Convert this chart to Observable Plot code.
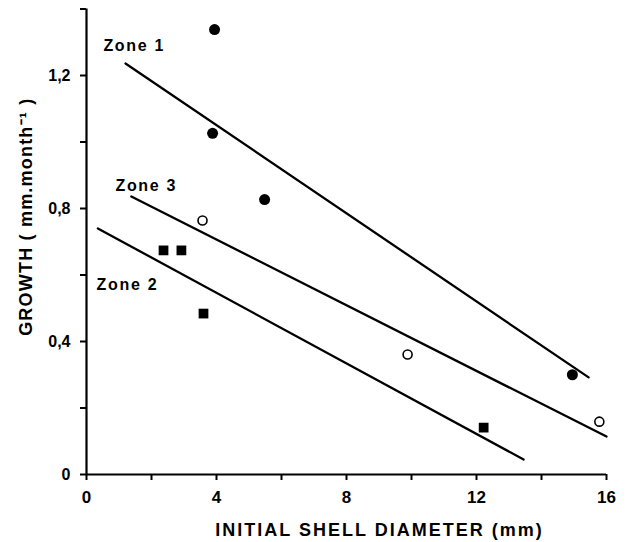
<!DOCTYPE html>
<html>
<head>
<meta charset="utf-8">
<script src="https://cdn.jsdelivr.net/npm/d3@7"></script>
<script src="https://cdn.jsdelivr.net/npm/@observablehq/plot@0.6"></script>
<style>
  html, body { margin: 0; padding: 0; background: #fff; }
  svg { display: block; }
</style>
</head>
<body>
<div id="chart"></div>
<script>
// Zone 1 (filled circles)
const zone1X = [3.94, 3.88, 5.48, 14.95];
const zone1Y = [1.338, 1.026, 0.827, 0.30];
// Zone 3 (open circles)
const zone3X = [3.57, 9.88, 15.78];
const zone3Y = [0.764, 0.361, 0.159];
// Zone 2 (filled squares)
const zone2X = [2.37, 2.92, 3.60, 12.22];
const zone2Y = [0.674, 0.674, 0.484, 0.141];

// Regression line end points
const zone1LineX = [1.20, 15.45];
const zone1LineY = [1.236, 0.292];
const zone3LineX = [1.38, 16.0];
const zone3LineY = [0.836, 0.114];
const zone2LineX = [0.35, 13.45];
const zone2LineY = [0.74, 0.045];

// Zone labels
const zoneNames = ["Zone 1", "Zone 3", "Zone 2"];
const zoneLabelX = [0.52, 0.89, 0.31];
const zoneLabelY = [1.29, 0.869, 0.571];

// Ticks
const xTicks = [0, 2, 4, 6, 8, 10, 12, 14, 16];
const xTickLabels = {0: "0", 4: "4", 8: "8", 12: "12", 16: "16"};
const yTicks = [0, 0.2, 0.4, 0.6, 0.8, 1.0, 1.2, 1.4];
const yTickLabels = {"0": "0", "0.4": "0,4", "0.8": "0,8", "1.2": "1,2"};

const xTitle = "INITIAL SHELL DIAMETER (mm)";
const yTitle = "GROWTH ( mm.month\u207B\u00B9 )";

const pts = (xs, ys) => xs.map((x, i) => ({x, y: ys[i]}));
const font = "'Liberation Sans', Arial, sans-serif";

const chart = Plot.plot({
  width: 631,
  height: 542,
  marginLeft: 86,
  marginRight: 25,
  marginTop: 8.5,
  marginBottom: 68,
  style: {fontFamily: font, fontWeight: "bold", color: "#000", background: "#fff"},
  x: {domain: [0, 16]},
  y: {domain: [0, 1.4]},
  marks: [
    Plot.axisX({
      ticks: xTicks, tickSize: 6, tickPadding: 10, strokeWidth: 2,
      tickFormat: d => xTickLabels[d] ?? "", fontSize: 17, fontWeight: "bold",
      label: null
    }),
    Plot.axisY({
      ticks: yTicks, tickSize: 6, tickPadding: 10, strokeWidth: 2,
      tickFormat: d => yTickLabels[String(+d.toFixed(1))] ?? "", fontSize: 16, fontWeight: "bold",
      label: null
    }),
    Plot.ruleY([0], {strokeWidth: 2.2}),
    Plot.ruleX([0], {strokeWidth: 2.2}),
    Plot.line(pts(zone1LineX, zone1LineY), {x: "x", y: "y", stroke: "#000", strokeWidth: 2.3}),
    Plot.line(pts(zone3LineX, zone3LineY), {x: "x", y: "y", stroke: "#000", strokeWidth: 2.3}),
    Plot.line(pts(zone2LineX, zone2LineY), {x: "x", y: "y", stroke: "#000", strokeWidth: 2.3}),
    Plot.dot(pts(zone1X, zone1Y), {x: "x", y: "y", r: 5.5, fill: "#000", symbol: "circle"}),
    Plot.dot(pts(zone3X, zone3Y), {x: "x", y: "y", r: 4.5, fill: "#fff", stroke: "#000", strokeWidth: 1.6, symbol: "circle"}),
    Plot.dot(pts(zone2X, zone2Y), {x: "x", y: "y", r: 5.5, fill: "#000", symbol: "square"}),
    Plot.text(zoneNames, {
      x: (d, i) => zoneLabelX[i], y: (d, i) => zoneLabelY[i], text: d => d,
      textAnchor: "start", fontSize: 16, fontWeight: "bold", fill: "#000"
    }),
    Plot.text([xTitle], {
      frameAnchor: "bottom", text: d => d, dx: 33, dy: 56, lineAnchor: "middle",
      textAnchor: "middle", fontSize: 18, fontWeight: "bold", fill: "#000"
    }),
    Plot.text([yTitle], {
      frameAnchor: "left", text: d => d, rotate: -90, dx: -60, dy: -25, lineAnchor: "middle",
      textAnchor: "middle", fontSize: 18, fontWeight: "bold", fill: "#000"
    })
  ]
});
chart.querySelectorAll("text").forEach(t => {
  const s = t.textContent;
  if (s === xTitle) t.style.letterSpacing = "2px";
  if (s === yTitle) t.style.letterSpacing = "1.2px";
  if (zoneNames.includes(s)) t.style.letterSpacing = "1.7px";
});
document.getElementById("chart").appendChild(chart);
</script>
</body>
</html>
